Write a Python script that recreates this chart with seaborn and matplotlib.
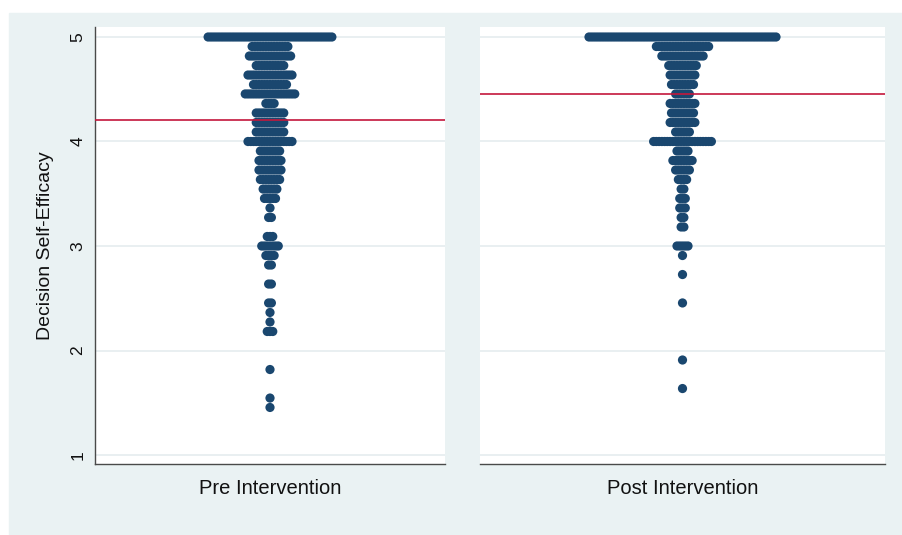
import numpy as np
import pandas as pd
import matplotlib
matplotlib.use("Agg")
import matplotlib.pyplot as plt
from matplotlib.patches import Rectangle
import seaborn as sns

sns.set_style("white")
plt.rcParams["font.family"] = ["Liberation Sans", "DejaVu Sans"]

# Decision self-efficacy scores (mean of 11 items on a 1-5 scale) and how many
# respondents gave each score, before and after the intervention.
pre_scores = [5.000, 4.909, 4.818, 4.727, 4.636, 4.545, 4.455, 4.364, 4.273, 4.182,
              4.091, 4.000, 3.909, 3.818, 3.727, 3.636, 3.545, 3.455, 3.364, 3.273,
              3.091, 3.000, 2.909, 2.818, 2.636, 2.455, 2.364, 2.273, 2.182, 1.818,
              1.545, 1.455]
pre_counts = [46, 14, 16, 11, 17, 13, 19, 4, 11, 11,
              11, 17, 8, 9, 9, 8, 6, 5, 1, 2,
              3, 7, 4, 2, 2, 2, 1, 1, 3, 1,
              1, 1]

post_scores = [5.000, 4.909, 4.818, 4.727, 4.636, 4.545, 4.455, 4.364, 4.273, 4.182,
               4.091, 4.000, 3.909, 3.818, 3.727, 3.636, 3.545, 3.455, 3.364, 3.273,
               3.182, 3.000, 2.909, 2.727, 2.455, 1.909, 1.636]
post_counts = [69, 20, 16, 11, 10, 9, 6, 10, 9, 10,
               6, 22, 5, 8, 6, 4, 2, 3, 3, 2,
               2, 5, 1, 1, 1, 1, 1]

# Group means drawn as reference lines
pre_mean = 4.21
post_mean = 4.45

panel_labels = ["Pre Intervention", "Post Intervention"]
y_ticks = [1, 2, 3, 4, 5]

NAVY = "#1A476F"
MEAN_RED = "#C4173C"
BG = "#EAF2F3"
GRID = "#E3EBED"
AXIS = "#4A4A4A"
DOT_STEP = 2.75  # horizontal spacing between stacked dots (pixel units)


def dot_table(scores, counts):
    rows = []
    for s, n in zip(scores, counts):
        for i in range(n):
            rows.append({"offset": (i - (n - 1) / 2) * DOT_STEP, "score": s})
    return pd.DataFrame(rows)


W, H = 903, 535
fig = plt.figure(figsize=(W / 100, H / 100), dpi=100)
fig.patch.set_facecolor("white")
fig.add_artist(Rectangle((9 / W, 0), 1 - 9 / W, 1 - 13 / H,
                         transform=fig.transFigure, color=BG, zorder=-5))

top, bottom = 27, 464
ax_h = (bottom - top) / H
ax_y = 1 - bottom / H
ax1 = fig.add_axes([95 / W, ax_y, 350 / W, ax_h], zorder=2)
ax2 = fig.add_axes([480 / W, ax_y, 405 / W, ax_h], zorder=2)

ylim = (1 - 9 / 104.5, 5 + 10 / 104.5)

for ax, scores, counts, mean, label, width in [
    (ax1, pre_scores, pre_counts, pre_mean, panel_labels[0], 350),
    (ax2, post_scores, post_counts, post_mean, panel_labels[1], 405),
]:
    ax.set_facecolor("white")
    df = dot_table(scores, counts)
    for t in y_ticks:
        ax.axhline(t, color=GRID, lw=1.1, zorder=1)
    sns.scatterplot(data=df, x="offset", y="score", ax=ax, s=44, color=NAVY,
                    edgecolor="none", linewidth=0, legend=False, zorder=3)
    ax.axhline(mean, color=MEAN_RED, lw=1.2, zorder=4)
    ax.set_xlim(-width / 2, width / 2)
    ax.set_ylim(*ylim)
    ax.set_xticks([])
    ax.set_xlabel(label, fontsize=14.5, labelpad=11, color="#111111")
    for side in ["top", "right"]:
        ax.spines[side].set_visible(False)
    ax.spines["bottom"].set_color(AXIS)
    ax.spines["bottom"].set_linewidth(1.0)

# Left panel carries the shared y axis
ax1.set_yticks(y_ticks)
ax1.tick_params(axis="y", length=6, width=0.9, color=AXIS, labelsize=12.5,
                pad=1, labelcolor="#111111")
for lab in ax1.get_yticklabels():
    lab.set_rotation(90)
    lab.set_va("center")
ax1.spines["left"].set_color(AXIS)
ax1.spines["left"].set_linewidth(1.0)
ax1.set_ylabel("Decision Self-Efficacy", fontsize=14, color="#111111")
ax1.yaxis.set_label_coords(-0.118, 0.5)

ax2.set_yticks([])
ax2.set_ylabel("")
ax2.spines["left"].set_visible(False)

fig.savefig("out.png", dpi=100, facecolor=fig.get_facecolor())
